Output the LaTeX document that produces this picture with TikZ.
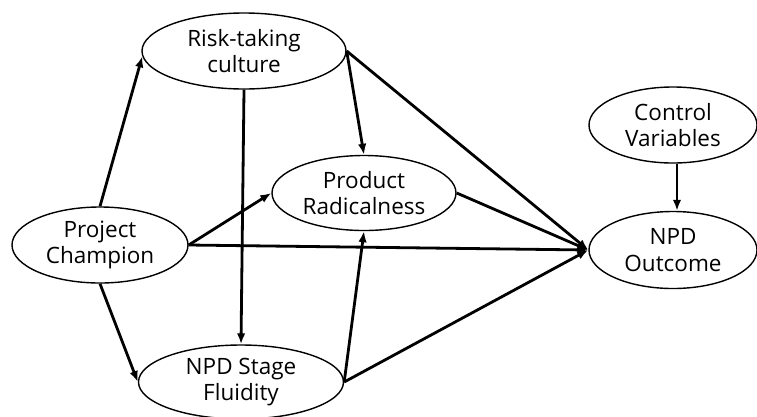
\documentclass[tikz,border=0pt]{standalone}
\usepackage{fontspec}
\setmainfont{Open Sans}
\usetikzlibrary{shapes.geometric,arrows.meta}
\begin{document}
\begin{tikzpicture}[x=1pt,y=-1pt,
  var/.style={ellipse,draw=black,line width=1.4pt,inner sep=0pt,align=center,
    font=\fontsize{22.5}{26.5}\selectfont,text=black},
  arr/.style={line width=2.8pt,-{Latex[length=11pt,width=8.5pt]}}]
\useasboundingbox (0,0) rectangle (757,416);
\clip (0,0) rectangle (757,416);
\node[var,minimum width=204pt,minimum height=76pt] (risk) at (244,51) {Risk-taking\\culture};
\node[var,minimum width=176pt,minimum height=76pt] (pc) at (100,245) {Project\\Champion};
\node[var,minimum width=184pt,minimum height=75pt] (pr) at (364,193) {Product\\Radicalness};
\node[var,minimum width=205pt,minimum height=74pt] (fluid) at (241,382) {NPD Stage\\Fluidity};
\node[var,minimum width=168pt,minimum height=76pt] (ctrl) at (673,125) {Control\\Variables};
\node[var,minimum width=168pt,minimum height=77pt] (out) at (673,250) {NPD\\Outcome};
\draw[arr] (pc.north) -- (risk.183);
\draw[arr] (pc.south) -- (fluid.west);
\draw[arr] (pc.east) -- (pr.west);
\draw[arr] (pc.east) -- (out.west);
\draw[arr] (risk.south) -- (fluid.north);
\draw[arr] (risk.east) -- (pr.north);
\draw[arr] (risk.east) -- (out.west);
\draw[arr] (fluid.east) -- (pr.south);
\draw[arr] (fluid.east) -- (out.west);
\draw[arr] (pr.east) -- (out.west);
\draw[arr] ([xshift=4pt]ctrl.south) -- ([xshift=4pt]out.north);
\end{tikzpicture}
\end{document}
